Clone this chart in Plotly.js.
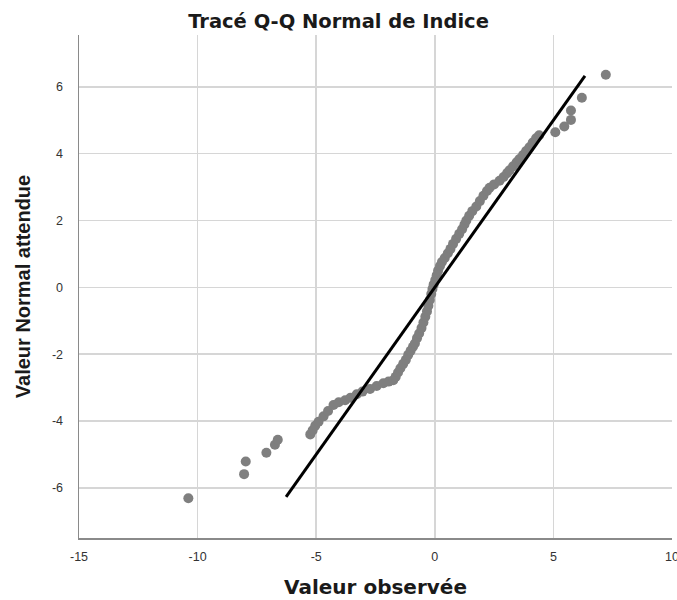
<!DOCTYPE html>
<html>
<head>
<meta charset="utf-8">
<script src="https://cdn.plot.ly/plotly-3.0.1.min.js"></script>
<style>html,body{margin:0;padding:0;background:#fff;}#chart{width:677px;height:600px;}</style>
</head>
<body>
<div id="chart"></div>
<script>
const observed = [
  -10.39, -8.04, -7.97, -7.10, -6.74, -6.62,
  -5.25, -5.15, -5.04, -4.90, -4.69, -4.50, -4.27, -4.05, -3.78, -3.55,
  -3.29, -3.05, -2.73, -2.45, -2.17, -1.95, -1.75, -1.65, -1.55, -1.45,
  -1.33, -1.22, -1.12, -1.02, -0.92, -0.84, -0.75, -0.66, -0.56, -0.48,
  -0.40, -0.33, -0.27, -0.21, -0.15, -0.10, -0.05, 0.02, 0.08, 0.14,
  0.22, 0.30, 0.42, 0.55, 0.66, 0.77, 0.90, 1.03, 1.15, 1.25,
  1.33, 1.45, 1.58, 1.75, 1.90, 2.05, 2.20, 2.31, 2.50, 2.73,
  2.90, 3.05, 3.15, 3.30, 3.45, 3.57, 3.72, 3.85, 3.99, 4.13,
  4.27, 4.40,
  5.08, 5.46, 5.74, 5.74, 6.20, 7.21
];
const expected = [
  -6.31, -5.59, -5.21, -4.95, -4.71, -4.56,
  -4.40, -4.28, -4.14, -4.02, -3.86, -3.70, -3.52, -3.44, -3.38, -3.30,
  -3.20, -3.12, -3.04, -2.95, -2.87, -2.82, -2.78, -2.68, -2.55, -2.42,
  -2.29, -2.17, -2.02, -1.90, -1.78, -1.68, -1.52, -1.38, -1.22, -1.05,
  -0.88, -0.72, -0.55, -0.38, -0.20, -0.05, 0.08, 0.22, 0.36, 0.50,
  0.64, 0.76, 0.88, 1.02, 1.15, 1.30, 1.45, 1.60, 1.74, 1.88,
  2.00, 2.14, 2.28, 2.42, 2.58, 2.74, 2.88, 2.98, 3.08, 3.19,
  3.30, 3.42, 3.50, 3.62, 3.74, 3.84, 3.96, 4.08, 4.19, 4.33,
  4.46, 4.55,
  4.64, 4.81, 5.01, 5.29, 5.67, 6.36
];
// Reference line (expected = observed) end points
const refLine = [-6.27, 6.33];

const xTicks = [-15, -10, -5, 0, 5, 10];
const yTicks = [-6, -4, -2, 0, 2, 4, 6];

const FONT = 'Arial, "Liberation Sans", sans-serif';
const TFONT = '"DejaVu Sans", Arial, sans-serif';

const traces = [
  {
    x: observed, y: expected, type: 'scatter', mode: 'markers',
    marker: {color: '#7f7f7f', size: 10, line: {width: 0}},
    hoverinfo: 'x+y', showlegend: false
  },
  {
    x: refLine, y: refLine, type: 'scatter', mode: 'lines',
    line: {color: '#000000', width: 3},
    hoverinfo: 'skip', showlegend: false
  }
];

const layout = {
  width: 677, height: 600,
  paper_bgcolor: '#ffffff', plot_bgcolor: '#ffffff',
  margin: {l: 79, r: 5, t: 35, b: 62, pad: 0},
  font: {family: FONT, color: '#333333'},
  title: {
    text: '<b>Tracé Q-Q Normal de Indice</b>',
    font: {family: TFONT, size: 19.5, color: '#1a1a1a'},
    x: 0.5, xanchor: 'center', y: 0.965, yref: 'container', yanchor: 'middle',
    automargin: false
  },
  xaxis: {
    range: [-15, 10], tickvals: xTicks, ticktext: xTicks.map(String),
    showgrid: true, gridcolor: '#d6d6d6', gridwidth: 1.5,
    zeroline: false, showline: true, linecolor: '#8a8a8a', linewidth: 1.5,
    ticks: '', ticklabelstandoff: 6, ticklabeloverflow: 'allow',
    tickfont: {family: FONT, size: 12.5, color: '#333333'},
    title: {text: '<b>Valeur observée</b>', font: {family: TFONT, size: 20, color: '#1a1a1a'}, standoff: 17},
    automargin: false, fixedrange: true
  },
  yaxis: {
    range: [-7.5, 7.55], tickvals: yTicks, ticktext: yTicks.map(String),
    showgrid: true, gridcolor: '#d6d6d6', gridwidth: 1.5,
    zeroline: false, showline: true, linecolor: '#8a8a8a', linewidth: 1.5,
    ticks: '', ticklabelstandoff: 12,
    tickfont: {family: FONT, size: 12.5, color: '#333333'},
    title: {text: '<b>Valeur Normal attendue</b>', font: {family: FONT, size: 20, color: '#1a1a1a'}, standoff: 16},
    automargin: false, fixedrange: true
  },
  showlegend: false
};

Plotly.newPlot('chart', traces, layout, {displayModeBar: false, staticPlot: true});
</script>
</body>
</html>
